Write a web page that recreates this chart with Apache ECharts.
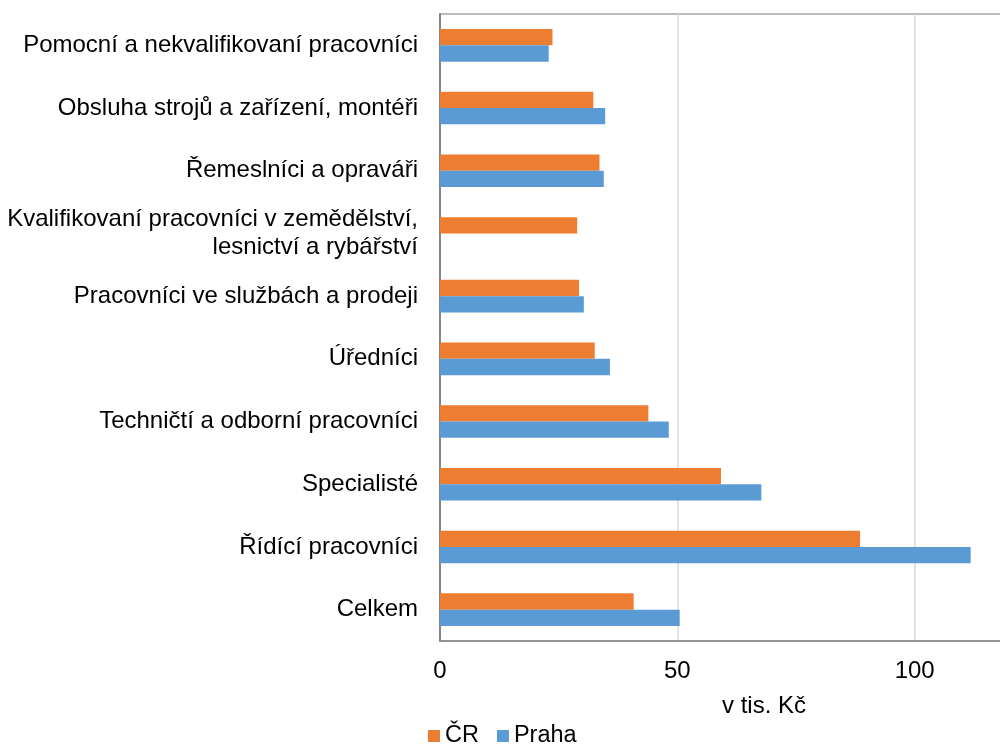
<!DOCTYPE html>
<html>
<head>
<meta charset="utf-8">
<script src="https://cdn.jsdelivr.net/npm/echarts@6/dist/echarts.min.js"></script>
<style>
  html, body { margin: 0; padding: 0; background: #fff; }
  #chart { width: 1000px; height: 747px; }
</style>
</head>
<body>
<div id="chart"></div>
<script>
const categories = [
  'Pomocní a nekvalifikovaní pracovníci',
  'Obsluha strojů a zařízení, montéři',
  'Řemeslníci a opraváři',
  'Kvalifikovaní pracovníci v zemědělství,\nlesnictví a rybářství',
  'Pracovníci ve službách a prodeji',
  'Úředníci',
  'Techničtí a odborní pracovníci',
  'Specialisté',
  'Řídící pracovníci',
  'Celkem'
];
const seriesNames = ['ČR', 'Praha'];
const valuesCR = [23.7, 32.3, 33.6, 28.9, 29.3, 32.6, 43.9, 59.2, 88.5, 40.8];
const valuesPraha = [22.9, 34.8, 34.5, null, 30.3, 35.8, 48.2, 67.7, 111.8, 50.5];
const axisName = 'v tis. Kč';

const FONT = '"Liberation Sans", Arial, sans-serif';
const chart = echarts.init(document.getElementById('chart'), null, { renderer: 'canvas' });
chart.setOption({
  animation: false,
  backgroundColor: '#ffffff',
  textStyle: { fontFamily: FONT },
  grid: {
    left: 440, top: 14, width: 712, height: 627,
    outerBoundsMode: 'none', containLabel: false,
    show: true, borderColor: '#a6a6a6', borderWidth: 1.5, backgroundColor: 'transparent'
  },
  legend: {
    data: seriesNames,
    left: 428, top: 724, padding: 0,
    itemWidth: 12, itemHeight: 12, itemGap: 18,
    icon: 'rect',
    textStyle: { fontSize: 23.5, color: '#000', fontFamily: FONT }
  },
  xAxis: {
    type: 'value', min: 0, max: 150, interval: 50,
    axisLine: { show: true, lineStyle: { color: '#868686', width: 1.5 } },
    axisTick: { show: false },
    axisLabel: { fontSize: 24, color: '#000', margin: 18, fontFamily: FONT },
    splitLine: { show: true, lineStyle: { color: '#d9d9d9', width: 1.5 } }
  },
  yAxis: {
    type: 'category', data: categories, inverse: true,
    axisLine: { show: true, onZero: false, lineStyle: { color: '#868686', width: 2 } },
    axisTick: { show: false },
    axisLabel: { fontSize: 24, color: '#000', margin: 22, lineHeight: 28, align: 'right', fontFamily: FONT }
  },
  graphic: [{
    type: 'text', left: 722, top: 694,
    style: { text: axisName, fontSize: 24, fill: '#000', fontFamily: FONT }
  }],
  series: [
    { name: seriesNames[0], type: 'bar', data: valuesCR, barGap: '0%', barCategoryGap: '48%',
      itemStyle: { color: '#ED7D31' } },
    { name: seriesNames[1], type: 'bar', data: valuesPraha, barGap: '0%', barCategoryGap: '48%',
      itemStyle: { color: '#5B9BD5' } }
  ]
});
</script>
</body>
</html>
